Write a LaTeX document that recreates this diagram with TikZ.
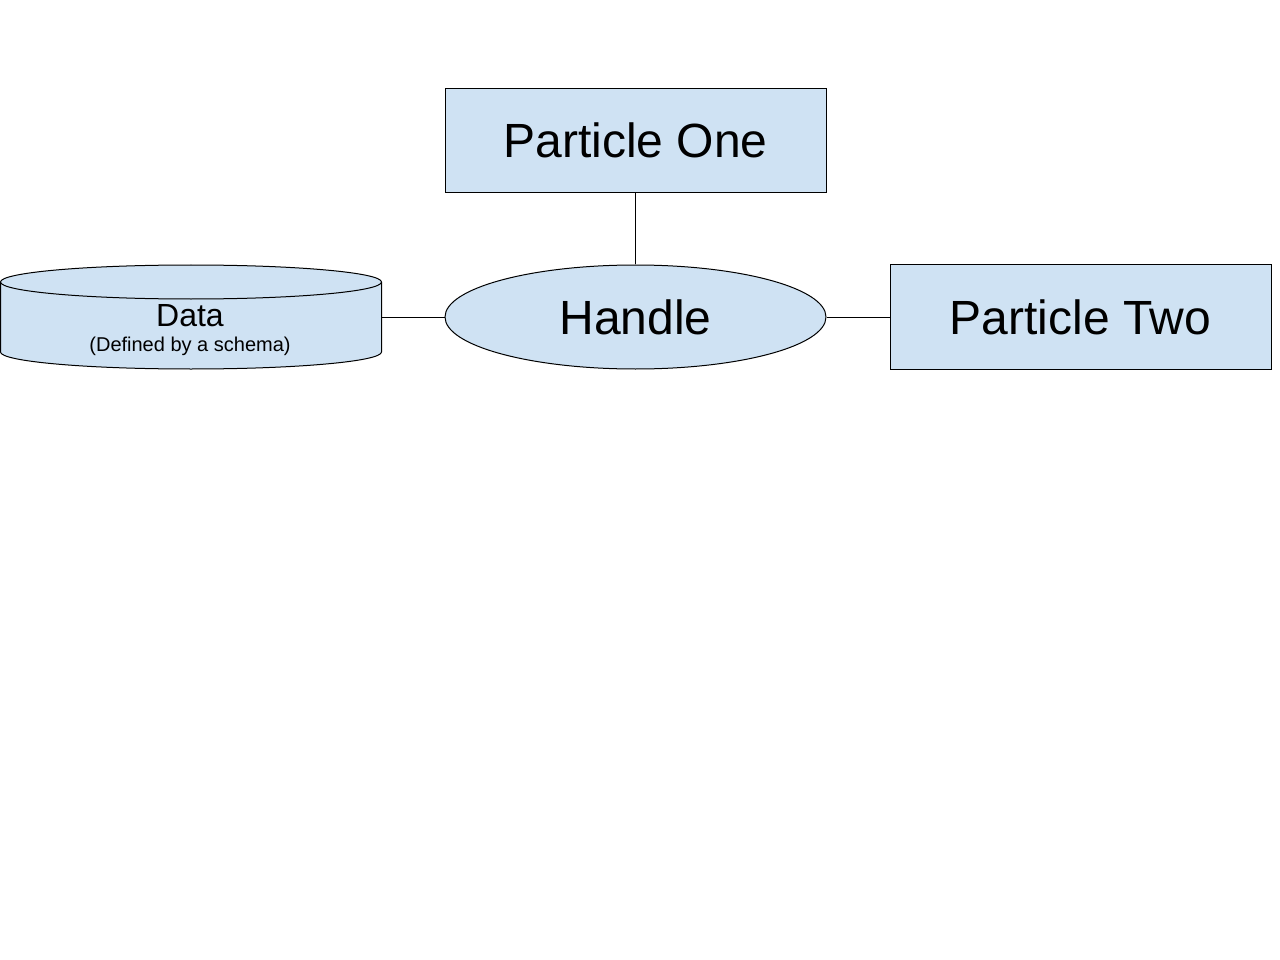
\documentclass[tikz,border=0pt]{standalone}
\usepackage{fontspec}
\setmainfont{Liberation Sans}
\usetikzlibrary{shapes.geometric}
\definecolor{lb}{HTML}{CFE2F3}
\begin{document}
\begin{tikzpicture}[x=1pt,y=-1pt,line width=1pt,
  boxnode/.style={draw=black,fill=lb,minimum width=381pt,minimum height=104pt,inner sep=0pt,font=\fontsize{48}{56}\selectfont},
  ellnode/.style={draw=black,fill=lb,ellipse,minimum width=381pt,minimum height=104pt,inner sep=0pt,font=\fontsize{48}{56}\selectfont},
  conn/.style={draw=black,line width=1pt}]
\useasboundingbox (0,0) rectangle (1280,960);
\node[boxnode] (p1) at (635.5,140.5) {Particle One};
\node[boxnode] (p2) at (1080.5,317) {Particle Two};
\node[ellnode] (h) at (635.5,317) {};
\node[font=\fontsize{48}{56}\selectfont] (ht) at (h.center) {Handle};
% cylinder
\filldraw[draw=black,fill=lb] (0.5,282) -- (0.5,352) arc[start angle=180,end angle=360,x radius=190.5pt,y radius=17pt] -- (381.5,282) arc[start angle=0,end angle=180,x radius=190.5pt,y radius=17pt] -- cycle;
\draw (0.5,282) arc[start angle=180,end angle=360,x radius=190.5pt,y radius=17pt];
\node[minimum width=381pt,minimum height=104pt,inner sep=0pt] (data) at (191,317) {};
\node[font=\fontsize{32}{36}\selectfont] (dt) at (190,316) {Data};
\node[font=\fontsize{20}{24}\selectfont] (ds) at (190,346) {(Defined by a schema)};
\draw[conn] (p1.south) -- (h.north);
\draw[conn] (data.east) -- (h.west);
\draw[conn] (h.east) -- (p2.west);
\end{tikzpicture}
\end{document}
